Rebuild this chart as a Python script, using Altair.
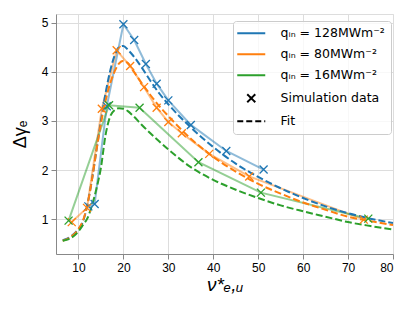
import altair as alt
import pandas as pd

# ---------------- data ----------------
series = ["qᵢₙ = 128MWm⁻²", "qᵢₙ = 80MWm⁻²", "qᵢₙ = 16MWm⁻²"]
extra_labels = ["Simulation data", "Fit"]
colors = ["#1f77b4", "#ff7f0e", "#2ca02c"]

sim_x_128 = [12.2, 13.6, 16.3, 20.0, 22.4, 25.0, 27.4, 30.0, 35.0, 42.9, 51.2]
sim_y_128 = [1.26, 1.31, 3.30, 4.97, 4.65, 4.16, 3.76, 3.42, 2.92, 2.39, 2.01]
sim_x_80 = [8.5, 11.9, 15.2, 18.5, 21.5, 24.6, 27.4, 30.0, 33.0, 39.1, 48.0, 73.5]
sim_y_80 = [0.94, 1.23, 3.25, 4.44, 4.12, 3.69, 3.27, 2.98, 2.75, 2.33, 1.87, 0.99]
sim_x_16 = [7.8, 16.8, 23.6, 36.7, 50.6, 74.5]
sim_y_16 = [0.97, 3.32, 3.27, 2.16, 1.54, 1.01]

fit_x = [6.5, 8, 10, 11, 12, 13, 14, 15, 16, 17, 18, 19, 20, 21, 22, 24, 26, 28,
         30, 35, 40, 45, 50, 55, 60, 65, 70, 75, 80]
fit_128 = [0.57, 0.63, 0.80, 0.95, 1.30, 1.80, 2.40, 3.00, 3.55, 4.00, 4.32, 4.50,
           4.53, 4.45, 4.35, 4.10, 3.82, 3.56, 3.34, 2.87, 2.47, 2.13, 1.86, 1.63,
           1.43, 1.26, 1.12, 1.01, 0.92]
fit_80 = [0.56, 0.62, 0.80, 0.97, 1.30, 1.80, 2.40, 2.95, 3.40, 3.75, 4.00, 4.17,
          4.23, 4.18, 4.05, 3.78, 3.53, 3.30, 3.10, 2.64, 2.27, 1.97, 1.72, 1.52,
          1.34, 1.19, 1.05, 0.96, 0.88]
fit_16 = [0.56, 0.60, 0.75, 0.88, 1.02, 1.28, 1.62, 2.05, 2.70, 3.08, 3.22, 3.26,
          3.25, 3.20, 3.12, 2.93, 2.75, 2.58, 2.42, 2.06, 1.80, 1.60, 1.43, 1.28,
          1.16, 1.05, 0.94, 0.86, 0.79]

x_ticks = [10, 20, 30, 40, 50, 60, 70, 80]
y_ticks = [1, 2, 3, 4, 5]

# ---------------- tables ----------------
sim_rows = []
for lab, xs_, ys_ in zip(series, [sim_x_128, sim_x_80, sim_x_16], [sim_y_128, sim_y_80, sim_y_16]):
    for i, (a, b) in enumerate(zip(xs_, ys_)):
        sim_rows.append({"label": lab, "x": a, "y": b, "i": i})
sim_df = pd.DataFrame(sim_rows)

fit_rows = []
for lab, ys_ in zip(series, [fit_128, fit_80, fit_16]):
    for i, (a, b) in enumerate(zip(fit_x, ys_)):
        fit_rows.append({"label": lab, "x": a, "y": b, "i": i})
fit_df = pd.DataFrame(fit_rows)

legend_df = pd.DataFrame({"label": series + extra_labels})

all_labels = series + extra_labels
line_path = "M-2.8,0L2.8,0"
x_path = "M-0.8,-0.8L0.8,0.8M-0.8,0.8L0.8,-0.8"

font = "DejaVu Sans"

xs = alt.Scale(domain=[5, 80], nice=False, zero=False)
ys = alt.Scale(domain=[0.29, 5.18], nice=False, zero=False)
cs = alt.Scale(domain=all_labels, range=colors + ["black", "black"])

x_axis = alt.Axis(values=x_ticks, title="ν*ₑ,ᵤ", titleFontSize=19, titleFontWeight="normal",
                  titleFontStyle="italic", titlePadding=2, labelFontSize=12, tickSize=5,
                  labelPadding=3)
y_axis = alt.Axis(values=y_ticks, title="Δγₑ", titleFontSize=18, titleFontWeight="normal",
                  titlePadding=12, labelFontSize=12, tickSize=5, labelPadding=3)

legend = alt.Legend(
    orient="none", legendX=177, legendY=7, title=None,
    symbolSize=100, symbolOpacity=1,
    symbolOffset=6, labelOffset=23,
    labelFontSize=12.5, labelFont=font, labelColor="black", labelLimit=300,
    fillColor="rgba(255,255,255,0.8)", strokeColor="#cccccc", cornerRadius=3,
    padding=6, rowPadding=8,
)

base_x = alt.X("x:Q", scale=xs, axis=x_axis)
base_y = alt.Y("y:Q", scale=ys, axis=y_axis)

sim_lines = alt.Chart(sim_df).mark_line(strokeWidth=2, strokeOpacity=0.5).encode(
    x=base_x, y=base_y, order="i:Q",
    color=alt.Color("label:N", scale=cs, legend=legend),
)

sim_points = alt.Chart(sim_df).mark_point(shape=x_path, size=100, filled=False, strokeWidth=1.3, opacity=1).encode(
    x=base_x, y=base_y,
    color=alt.Color("label:N", scale=cs, legend=legend),
)

fit_lines = alt.Chart(fit_df).mark_line(strokeWidth=2, strokeDash=[7, 3], interpolate="monotone").encode(
    x=base_x, y=base_y, order="i:Q",
    color=alt.Color("label:N", scale=cs, legend=legend),
)

legend_layer = alt.Chart(legend_df).mark_point(filled=False).transform_filter("false").encode(
    color=alt.Color("label:N", scale=cs, legend=legend),
    shape=alt.Shape("label:N", scale=alt.Scale(domain=all_labels,
                    range=[line_path, line_path, line_path, x_path, line_path]), legend=legend),
    strokeDash=alt.StrokeDash("label:N", scale=alt.Scale(domain=all_labels,
                    range=[[1, 0], [1, 0], [1, 0], [1, 0], [6, 3]]), legend=legend),
    strokeWidth=alt.StrokeWidth("label:N", scale=alt.Scale(domain=all_labels,
                    range=[2, 2, 2, 1.1, 2]), legend=legend),
)

chart = alt.layer(sim_lines, fit_lines, sim_points, legend_layer).properties(
    width=337, height=240,
    autosize=alt.AutoSizeParams(type="none"),
    padding={"left": 48, "top": 6, "right": 14, "bottom": 55},
).configure_view(
    stroke="black", strokeWidth=1.1
).configure_axis(
    grid=True, gridColor="#b0b0b0", gridWidth=1.1,
    domainColor="black", domainWidth=1.1, tickColor="black", tickWidth=1.1,
    labelColor="black", titleColor="black", labelFont=font, titleFont=font,
).configure(background="white")

chart.save("out.html", embed_options={"renderer": "svg", "actions": False})
